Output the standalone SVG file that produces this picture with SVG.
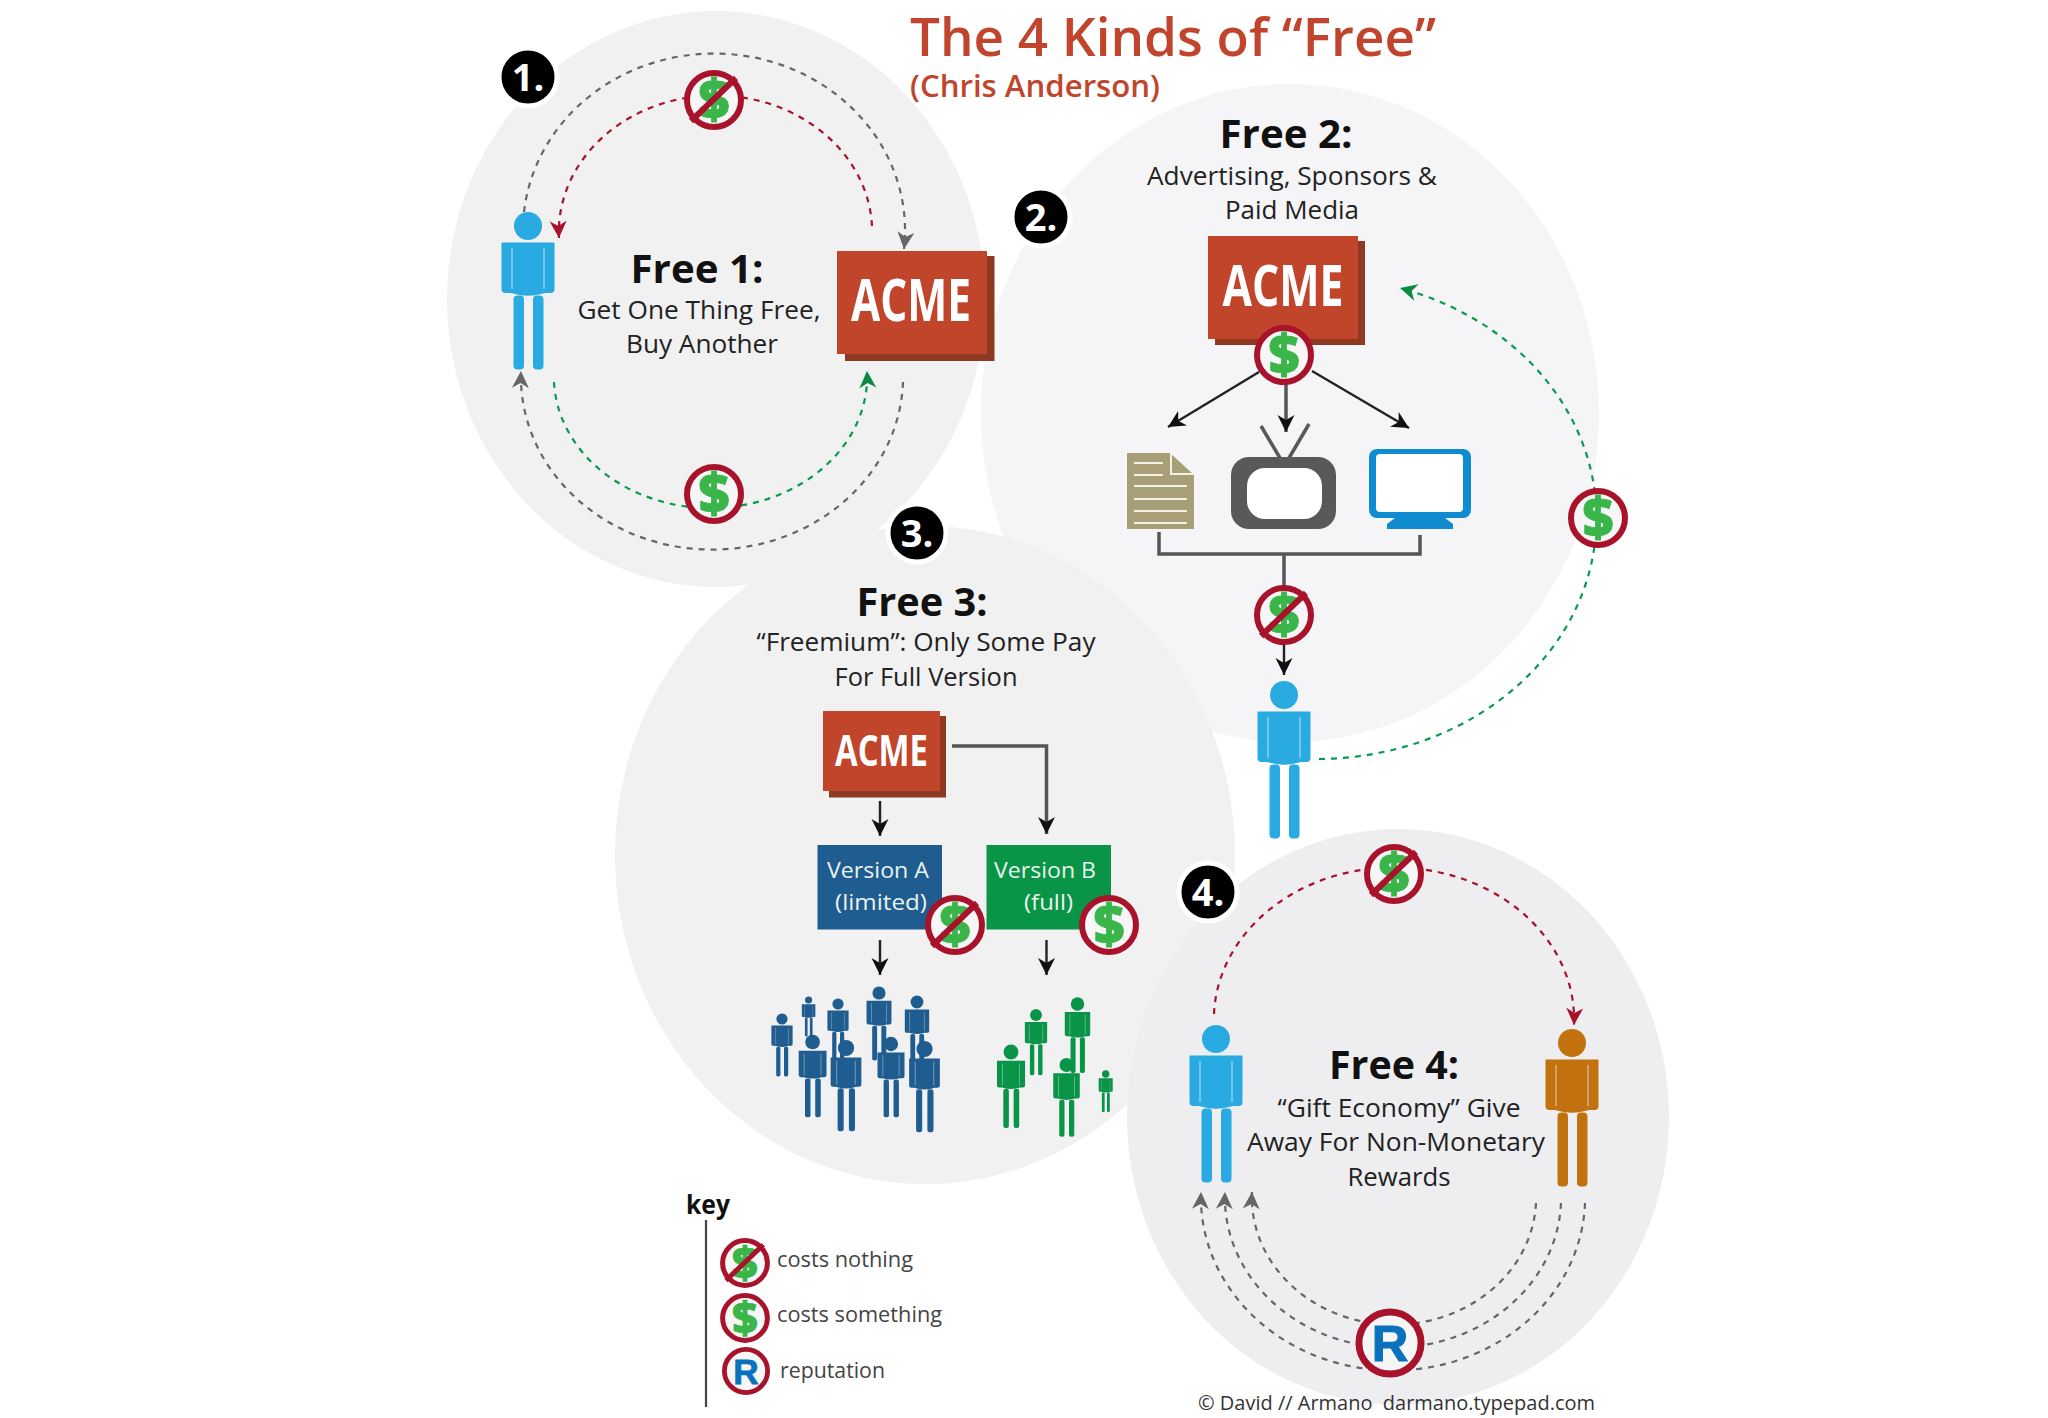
<svg xmlns="http://www.w3.org/2000/svg" width="2048" height="1418" viewBox="0 0 2048 1418">
<style>
text{font-family:"Open Sans","Liberation Sans",sans-serif}
.title{font-weight:600;fill:#c0452c}
.h{font-size:39px;font-weight:700;fill:#111;text-anchor:middle}
.s{font-size:25px;fill:#222;text-anchor:middle}
.acme{font-weight:700;fill:#fff;text-anchor:middle}
.ver{font-size:22px;font-weight:500;fill:#e8f3ee;text-anchor:middle}
.k{font-size:22px;fill:#444}
.bt{font-size:38px;font-weight:700;fill:#fff;text-anchor:middle}
.bc{fill:#000;stroke:#fff;stroke-width:5}
.ring{fill:#f6f6f6;stroke:#a8122a;stroke-width:6}
.usd{font-size:54px;font-weight:800;fill:#39b54a;stroke:#39b54a;stroke-width:.8;text-anchor:middle}
.rr{font-family:"Liberation Sans",Arial,sans-serif;font-size:44px;font-weight:700;fill:#0a72bd;stroke:#0a72bd;stroke-width:1;text-anchor:middle}
.no{stroke:#a8122a;stroke-width:6}
.box{fill:#c1452a}.sh{fill:#8e3a22}
.d{fill:none;stroke-width:2.2;stroke-dasharray:6 6}
.dg{stroke:#666;marker-end:url(#ag)}
.dr{stroke:#a8122a;marker-end:url(#ar)}
.dn{stroke:#0a9a4d;marker-end:url(#an)}
.l{fill:none;stroke:#555;stroke-width:3.5}
.a{marker-end:url(#ab)}
.t{stroke:#222;stroke-width:2.4;fill:none;marker-end:url(#ab)}
.blue{fill:#29abe2}.navy{fill:#1f5c8f}.grn{fill:#0a9447}.org{fill:#c1720f}
</style>
<defs>
<marker id="ag" markerUnits="userSpaceOnUse" markerWidth="18" markerHeight="18" viewBox="0 -9 18 18" refX="17" refY="0" orient="auto"><path d="M0,-8.5L17,0L0,8.5L5,0z" fill="#666"/></marker>
<marker id="ar" markerUnits="userSpaceOnUse" markerWidth="18" markerHeight="18" viewBox="0 -9 18 18" refX="17" refY="0" orient="auto"><path d="M0,-8.5L17,0L0,8.5L5,0z" fill="#a8122a"/></marker>
<marker id="an" markerUnits="userSpaceOnUse" markerWidth="18" markerHeight="18" viewBox="0 -9 18 18" refX="17" refY="0" orient="auto"><path d="M0,-8.5L17,0L0,8.5L5,0z" fill="#0a8a45"/></marker>
<marker id="ab" markerUnits="userSpaceOnUse" markerWidth="18" markerHeight="18" viewBox="0 -9 18 18" refX="17" refY="0" orient="auto"><path d="M0,-8.5L17,0L0,8.5L5,0z" fill="#111"/></marker>
<g id="person">
<circle cx="0" cy="0" r="14"/>
<path d="M-26.5,16.5H26.5V63q0,4-4,4H17.5L15,67.5Q0,72-15,67.5L-17.5,67H-22.5q-4,0-4-4z"/>
<rect x="-14.5" y="69.5" width="10.5" height="74" rx="4"/>
<rect x="5" y="69.5" width="10.5" height="74" rx="4"/>
<path d="M-16,22V63M16,22V63" stroke="#f2f2f4" stroke-width="1" stroke-opacity=".75" fill="none"/>
</g>
</defs>
<rect width="2048" height="1418" fill="#fff"/>
<g id="backgrounds">
<ellipse cx="716" cy="299" rx="269" ry="288" fill="#f1f1f1"/>
<ellipse cx="1290" cy="413" rx="309" ry="329" fill="#f5f5f7"/>
<ellipse cx="925" cy="855" rx="310" ry="329" fill="#f1f1f2"/>
<ellipse cx="1398" cy="1117" rx="271" ry="288" fill="#eeeef0"/>
</g>
<g id="title">
<text class="title" x="910" y="56" font-size="53" textLength="526" lengthAdjust="spacingAndGlyphs">The 4 Kinds of “Free”</text>
<text class="title" x="910" y="97" font-size="30" textLength="250" lengthAdjust="spacingAndGlyphs">(Chris Anderson)</text>
</g>
<g id="connectors">
<path class="d dg" d="M524,212A190,176 0 0 1 904,249"/>
<path class="d dr" d="M872,226A156,136 0 0 0 559,238"/>
<path class="d dg" d="M903,382A191,173 0 0 1 521,371"/>
<path class="d dn" d="M554,382A156,131 0 0 0 867,371"/>
<path class="t" d="M1259,372L1168,427"/>
<path class="t" style="stroke:#555;stroke-width:3.500" d="M1286,384V432"/>
<path class="t" d="M1312,371L1409,428"/>
<path class="l" d="M1159,532V554H1420V535M1284,554V592"/>
<path class="t" d="M1284,645V675"/>
<path class="d dn" d="M1319,759A280,241 0 0 0 1400,288"/>
<path class="t" d="M880,801V836"/>
<path class="l a" d="M952,746H1046.500V834"/>
<path class="t" d="M880,940V975"/>
<path class="t" d="M1046.500,940V975"/>
<path class="d dr" d="M1214,1014A180,152 0 0 1 1574,1025"/>
<path class="d dg" d="M1585,1203A192,173 0 0 1 1201,1192"/>
<path class="d dg" d="M1561,1203A168,150 0 0 1 1225,1192"/>
<path class="d dg" d="M1536,1203A142,127 0 0 1 1252,1192"/>
<path d="M706,1220V1407" stroke="#444" stroke-width="2.200"/>
</g>
<g id="badge-1"><circle class="bc" cx="528" cy="77" r="29"/><text class="bt" x="528" y="91">1.</text></g>
<g id="badge-2"><circle class="bc" cx="1041" cy="217" r="29"/><text class="bt" x="1041" y="231">2.</text></g>
<g id="badge-3"><circle class="bc" cx="917" cy="533" r="29"/><text class="bt" x="917" y="547">3.</text></g>
<g id="badge-4"><circle class="bc" cx="1208" cy="892" r="29"/><text class="bt" x="1208" y="906">4.</text></g>

<g id="free1-label">
<text class="h" x="697" y="283" textLength="133" lengthAdjust="spacingAndGlyphs">Free 1:</text>
<text class="s" x="699" y="319" textLength="243" lengthAdjust="spacingAndGlyphs">Get One Thing Free,</text>
<text class="s" x="702" y="353" textLength="152" lengthAdjust="spacingAndGlyphs">Buy Another</text>
</g>
<use id="free1-person" href="#person" class="blue" x="528" y="226"/>
<g id="free1-acme"><rect class="sh" x="845" y="256" width="149.500" height="105"/><rect class="box" x="837" y="251" width="150" height="103"/><text class="acme" x="911" y="321" font-size="59" textLength="120" lengthAdjust="spacingAndGlyphs">ACME</text></g>
<g id="free1-nocost" transform="translate(714,100)"><circle class="ring" r="27"/><text class="usd" y="19">$</text><path class="no" d="M22,-22L-23,21"/></g>
<g id="free1-cost" transform="translate(714,494)"><circle class="ring" r="27"/><text class="usd" y="19">$</text></g>

<g id="free2-label">
<text class="h" x="1286" y="148" textLength="133" lengthAdjust="spacingAndGlyphs">Free 2:</text>
<text class="s" x="1292" y="185" textLength="290" lengthAdjust="spacingAndGlyphs">Advertising, Sponsors &amp;</text>
<text class="s" x="1292" y="219" textLength="134" lengthAdjust="spacingAndGlyphs">Paid Media</text>
</g>
<g id="free2-acme"><rect class="sh" x="1215" y="241" width="150" height="104"/><rect class="box" x="1208" y="236" width="150" height="103"/><text class="acme" x="1283" y="306" font-size="57" textLength="121" lengthAdjust="spacingAndGlyphs">ACME</text></g>
<g id="free2-cost" transform="translate(1284,355)"><circle class="ring" r="27"/><text class="usd" y="19">$</text></g>
<g id="free2-paper"><path d="M1127,453H1170L1194,475V529H1127z" fill="#a89f78"/><path d="M1134,463H1163M1134,475H1163M1134,486H1187M1134,499H1187M1134,511H1187M1134,523H1187" stroke="#f3f1e6" stroke-width="2.200"/><path d="M1171,453V474H1194" stroke="#f3f1e6" stroke-width="2" fill="none"/></g>
<g id="free2-tv"><path d="M1261,426L1280,458M1309,424L1289,458" stroke="#58595b" stroke-width="3.500"/><rect x="1231" y="457" width="105" height="72" rx="18" fill="#58595b"/><rect x="1247" y="468" width="75" height="51" rx="18" fill="#fff"/></g>
<g id="free2-monitor"><rect x="1369" y="449" width="102" height="69" rx="8" fill="#0f8bd0"/><rect x="1376" y="454" width="87" height="58" rx="4" fill="#fff"/><path d="M1395,518H1445L1453,524V529H1387V524z" fill="#0f8bd0"/></g>
<g id="free2-nocost" transform="translate(1284,615)"><circle class="ring" r="27"/><text class="usd" y="19">$</text><path class="no" d="M22,-22L-23,21"/></g>
<use id="free2-person" href="#person" class="blue" x="1284" y="695"/>
<g id="free2-payment" transform="translate(1598,518)"><circle class="ring" r="27"/><text class="usd" y="19">$</text></g>

<g id="free3-label">
<text class="h" x="922" y="616" textLength="131" lengthAdjust="spacingAndGlyphs">Free 3:</text>
<text class="s" x="926" y="651" textLength="339" lengthAdjust="spacingAndGlyphs">“Freemium”: Only Some Pay</text>
<text class="s" x="926" y="686" textLength="183" lengthAdjust="spacingAndGlyphs">For Full Version</text>
</g>
<g id="free3-acme"><rect class="sh" x="829" y="716" width="117" height="81.500"/><rect class="box" x="823" y="711" width="117" height="80"/><text class="acme" x="881.500" y="766" font-size="43" textLength="93" lengthAdjust="spacingAndGlyphs">ACME</text></g>
<g id="version-a"><rect x="817.500" y="845" width="124.500" height="84.500" fill="#1f5c8f"/><text class="ver" x="878" y="878" textLength="102" lengthAdjust="spacingAndGlyphs">Version A</text><text class="ver" x="881" y="910" textLength="92" lengthAdjust="spacingAndGlyphs">(limited)</text></g>
<g id="version-b"><rect x="986.500" y="845" width="124.500" height="84.500" fill="#0a9447"/><text class="ver" x="1045" y="878" textLength="102" lengthAdjust="spacingAndGlyphs">Version B</text><text class="ver" x="1048.500" y="910" textLength="49" lengthAdjust="spacingAndGlyphs">(full)</text></g>
<g id="free3-nocost" transform="translate(955,925)"><circle class="ring" r="27"/><text class="usd" y="19">$</text><path class="no" d="M22,-22L-23,21"/></g>
<g id="free3-cost" transform="translate(1109,925)"><circle class="ring" r="27"/><text class="usd" y="19">$</text></g>
<g id="people-a" class="navy">
<use href="#person" transform="translate(782,1019) scale(.4)"/>
<use href="#person" transform="translate(808.600,1000) scale(.255)"/>
<use href="#person" transform="translate(838,1004) scale(.4)"/>
<use href="#person" transform="translate(879,993) scale(.47)"/>
<use href="#person" transform="translate(917,1002) scale(.46)"/>
<use href="#person" transform="translate(812.600,1042) scale(.525)"/>
<use href="#person" transform="translate(846,1048) scale(.58)"/>
<use href="#person" transform="translate(891,1044) scale(.51)"/>
<use href="#person" transform="translate(924.500,1049) scale(.58)"/>
</g>
<g id="people-b" class="grn">
<use href="#person" transform="translate(1036,1015) scale(.42)"/>
<use href="#person" transform="translate(1077.500,1004) scale(.48)"/>
<use href="#person" transform="translate(1011,1052) scale(.53)"/>
<use href="#person" transform="translate(1066.500,1065) scale(.5)"/>
<use href="#person" transform="translate(1105.700,1074) scale(.265)"/>
</g>

<g id="free4-label">
<text class="h" x="1394" y="1079" textLength="130" lengthAdjust="spacingAndGlyphs">Free 4:</text>
<text class="s" x="1399" y="1117" textLength="243" lengthAdjust="spacingAndGlyphs">“Gift Economy” Give</text>
<text class="s" x="1396" y="1151" textLength="298" lengthAdjust="spacingAndGlyphs">Away For Non-Monetary</text>
<text class="s" x="1399" y="1186" textLength="103" lengthAdjust="spacingAndGlyphs">Rewards</text>
</g>
<use id="free4-giver" href="#person" class="blue" x="1216" y="1039"/>
<use id="free4-receiver" href="#person" class="org" x="1572" y="1043"/>
<g id="free4-nocost" transform="translate(1394,874)"><circle class="ring" r="27"/><text class="usd" y="19">$</text><path class="no" d="M22,-22L-23,21"/></g>
<g id="free4-reputation" transform="translate(1390,1343) scale(1.15)"><circle class="ring" r="27"/><text class="rr" y="16">R</text></g>

<g id="key">
<text x="686" y="1214" font-size="27" font-weight="700" fill="#111" textLength="44" lengthAdjust="spacingAndGlyphs">key</text>
<g id="key-nocost" transform="translate(745,1263) scale(.83)"><circle class="ring" r="27"/><text class="usd" y="19">$</text><path class="no" d="M22,-22L-23,21"/></g>
<text class="k" x="777" y="1267" textLength="136" lengthAdjust="spacingAndGlyphs">costs nothing</text>
<g id="key-cost" transform="translate(745,1318) scale(.83)"><circle class="ring" r="27"/><text class="usd" y="19">$</text></g>
<text class="k" x="777" y="1322" textLength="165" lengthAdjust="spacingAndGlyphs">costs something</text>
<g id="key-reputation" transform="translate(746,1371) scale(.8)"><circle class="ring" r="27"/><text class="rr" y="16">R</text></g>
<text class="k" x="780" y="1378" textLength="105" lengthAdjust="spacingAndGlyphs">reputation</text>
</g>
<text id="credit" x="1198" y="1410" font-size="20" fill="#333" textLength="397" lengthAdjust="spacingAndGlyphs" xml:space="preserve">© David // Armano  darmano.typepad.com</text>
</svg>
